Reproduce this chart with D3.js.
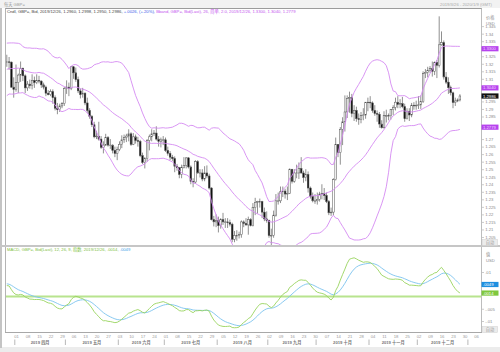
<!DOCTYPE html>
<html>
<head>
<meta charset="utf-8">
<script src="https://cdn.jsdelivr.net/npm/d3@7"></script>
<style>
  body { margin: 0; background: #fff; }
  svg { display: block; font-family: "Liberation Sans", Arial, "Noto Sans CJK SC", sans-serif; }
</style>
</head>
<body>
<svg id="chart" width="500" height="352"></svg>
<script>
// closes before the visible range, only used to warm up the Bband / MACD
const priorClose = [
  1.2610, 1.2635, 1.2735, 1.2780, 1.2720, 1.2745, 1.2765, 1.2840, 1.2865, 1.2870, 1.2870,
  1.2990, 1.2880, 1.2885, 1.2975, 1.3045, 1.3070, 1.3200, 1.3165, 1.3070, 1.3105, 1.3115,
  1.3075, 1.3040, 1.2945, 1.2935, 1.2945, 1.2945, 1.2890, 1.2930, 1.2845, 1.2785, 1.2900,
  1.2930, 1.3050, 1.3050, 1.3030, 1.3050, 1.3080, 1.3245, 1.3310, 1.3260,
  1.3190, 1.3150, 1.3175, 1.3115, 1.3080, 1.3010, 1.3155, 1.3090, 1.3240, 1.3250, 1.3275,
  1.3260, 1.3250, 1.3200, 1.3080, 1.3210, 1.3210
];

// daily GBP= candles, every weekday 2019-03-26 .. 2019-12-26
const open = [
  1.3210, 1.3213, 1.3211, 1.3045,
  1.3030, 1.3075, 1.3125, 1.3170, 1.3120, 1.3040, 1.3065, 1.3055, 1.3090, 1.3075, 1.3090, 1.3085, 1.3060, 1.3045, 1.3005, 1.2995, 1.3015, 1.2975, 1.2905, 1.2895, 1.2920, 1.2935,
  1.3035, 1.3045, 1.3035, 1.3180, 1.3140, 1.3095, 1.3020, 1.2995, 1.3005, 1.2940, 1.2890, 1.2850, 1.2795, 1.2715, 1.2720, 1.2700, 1.2645, 1.2660, 1.2710, 1.2660, 1.2660, 1.2625, 1.2605,
  1.2630, 1.2665, 1.2695, 1.2710, 1.2720, 1.2735, 1.2665, 1.2715, 1.2690, 1.2685, 1.2590, 1.2545, 1.2570, 1.2690, 1.2715, 1.2735, 1.2740, 1.2700, 1.2685, 1.2695,
  1.2695, 1.2625, 1.2605, 1.2580, 1.2570, 1.2520, 1.2510, 1.2465, 1.2510, 1.2525, 1.2575, 1.2515, 1.2420, 1.2415, 1.2550, 1.2475, 1.2475, 1.2435, 1.2475, 1.2455, 1.2375, 1.2165, 1.2150,
  1.2160, 1.2125, 1.2165, 1.2150, 1.2150, 1.2145, 1.2135, 1.2035, 1.2060, 1.2060, 1.2065, 1.2150, 1.2140, 1.2130, 1.2165, 1.2125, 1.2245, 1.2280, 1.2285, 1.2285, 1.2215, 1.2170,
  1.2160, 1.2060, 1.2060, 1.2195, 1.2290, 1.2290, 1.2350, 1.2355, 1.2335, 1.2340, 1.2500, 1.2420, 1.2475, 1.2475, 1.2505, 1.2475, 1.2445, 1.2465, 1.2375, 1.2320, 1.2290,
  1.2290, 1.2300, 1.2335, 1.2340, 1.2325, 1.2285, 1.2210, 1.2215, 1.2430, 1.2665, 1.2610, 1.2765, 1.2815, 1.2880, 1.2970, 1.2975, 1.2870, 1.2890, 1.2835, 1.2830, 1.2855, 1.2860, 1.2945,
  1.2945, 1.2940, 1.2890, 1.2870, 1.2865, 1.2800, 1.2775, 1.2855, 1.2855, 1.2855, 1.2895, 1.2910, 1.2945, 1.2930, 1.2935, 1.2915, 1.2835, 1.2885, 1.2860, 1.2925, 1.2920,
  1.2925, 1.2927, 1.2948, 1.3134, 1.3143, 1.3155, 1.3167, 1.3150, 1.3209, 1.3190, 1.3326, 1.3340, 1.3112, 1.3078, 1.3041, 1.3007, 1.2943, 1.2953, 1.2960
];
const high = [
  1.3260, 1.3245, 1.3215, 1.3110,
  1.3195, 1.3135, 1.3215, 1.3175, 1.3130, 1.3085, 1.3095, 1.3130, 1.3115, 1.3130, 1.3120, 1.3090, 1.3075, 1.3055, 1.3025, 1.3030, 1.3030, 1.2990, 1.2940, 1.2935, 1.2945, 1.3045,
  1.3090, 1.3075, 1.3185, 1.3185, 1.3175, 1.3115, 1.3035, 1.3040, 1.3010, 1.2975, 1.2905, 1.2860, 1.2815, 1.2755, 1.2815, 1.2720, 1.2685, 1.2735, 1.2720, 1.2700, 1.2665, 1.2650, 1.2650,
  1.2685, 1.2725, 1.2730, 1.2735, 1.2765, 1.2745, 1.2740, 1.2730, 1.2715, 1.2695, 1.2610, 1.2580, 1.2700, 1.2730, 1.2765, 1.2760, 1.2785, 1.2720, 1.2710, 1.2720,
  1.2710, 1.2650, 1.2620, 1.2595, 1.2585, 1.2535, 1.2515, 1.2530, 1.2580, 1.2580, 1.2580, 1.2525, 1.2440, 1.2560, 1.2560, 1.2500, 1.2500, 1.2520, 1.2525, 1.2470, 1.2380, 1.2190, 1.2200,
  1.2185, 1.2175, 1.2210, 1.2175, 1.2175, 1.2165, 1.2145, 1.2090, 1.2095, 1.2085, 1.2160, 1.2160, 1.2175, 1.2185, 1.2175, 1.2275, 1.2310, 1.2290, 1.2305, 1.2290, 1.2245, 1.2220,
  1.2165, 1.2105, 1.2225, 1.2335, 1.2345, 1.2385, 1.2385, 1.2370, 1.2385, 1.2505, 1.2500, 1.2500, 1.2530, 1.2545, 1.2580, 1.2490, 1.2500, 1.2485, 1.2385, 1.2345, 1.2335,
  1.2345, 1.2350, 1.2400, 1.2375, 1.2345, 1.2295, 1.2245, 1.2440, 1.2710, 1.2665, 1.2780, 1.2845, 1.2990, 1.2990, 1.3015, 1.3000, 1.2925, 1.2915, 1.2870, 1.2880, 1.2905, 1.2945, 1.2975,
  1.2985, 1.2950, 1.2925, 1.2890, 1.2880, 1.2825, 1.2885, 1.2895, 1.2870, 1.2900, 1.2925, 1.2975, 1.2985, 1.2965, 1.2980, 1.2935, 1.2905, 1.2905, 1.2940, 1.2945, 1.2955,
  1.2985, 1.2990, 1.3150, 1.3165, 1.3180, 1.3185, 1.3215, 1.3215, 1.3225, 1.3515, 1.3415, 1.3355, 1.3145, 1.3110, 1.3055, 1.3015, 1.2975, 1.2970, 1.2998
];
const low = [
  1.3180, 1.3160, 1.3040, 1.2975,
  1.3015, 1.3005, 1.3080, 1.3085, 1.3005, 1.3020, 1.3035, 1.3030, 1.3040, 1.3065, 1.3070, 1.3040, 1.3030, 1.2985, 1.2990, 1.2985, 1.2935, 1.2890, 1.2865, 1.2880, 1.2905, 1.2920,
  1.3000, 1.2985, 1.3025, 1.3100, 1.3080, 1.3005, 1.2970, 1.2975, 1.2925, 1.2875, 1.2835, 1.2780, 1.2705, 1.2700, 1.2690, 1.2635, 1.2605, 1.2655, 1.2650, 1.2635, 1.2605, 1.2580, 1.2560,
  1.2620, 1.2640, 1.2675, 1.2680, 1.2685, 1.2655, 1.2660, 1.2670, 1.2650, 1.2580, 1.2535, 1.2505, 1.2550, 1.2625, 1.2685, 1.2720, 1.2690, 1.2650, 1.2645, 1.2660,
  1.2615, 1.2590, 1.2560, 1.2555, 1.2480, 1.2490, 1.2440, 1.2440, 1.2505, 1.2505, 1.2505, 1.2400, 1.2380, 1.2405, 1.2470, 1.2445, 1.2420, 1.2420, 1.2440, 1.2365, 1.2160, 1.2120, 1.2115,
  1.2080, 1.2105, 1.2130, 1.2110, 1.2110, 1.2120, 1.2015, 1.2015, 1.2025, 1.2040, 1.2045, 1.2115, 1.2125, 1.2065, 1.2120, 1.2120, 1.2195, 1.2205, 1.2245, 1.2175, 1.2155, 1.2145,
  1.2045, 1.1960, 1.2045, 1.2185, 1.2265, 1.2275, 1.2315, 1.2305, 1.2295, 1.2335, 1.2405, 1.2410, 1.2440, 1.2435, 1.2470, 1.2410, 1.2420, 1.2345, 1.2305, 1.2280, 1.2270,
  1.2265, 1.2285, 1.2300, 1.2295, 1.2275, 1.2195, 1.2190, 1.2195, 1.2425, 1.2580, 1.2530, 1.2660, 1.2750, 1.2840, 1.2875, 1.2845, 1.2820, 1.2815, 1.2795, 1.2805, 1.2825, 1.2835, 1.2885,
  1.2905, 1.2875, 1.2855, 1.2815, 1.2775, 1.2770, 1.2770, 1.2810, 1.2825, 1.2830, 1.2860, 1.2890, 1.2905, 1.2905, 1.2905, 1.2815, 1.2830, 1.2820, 1.2845, 1.2895, 1.2895,
  1.2900, 1.2900, 1.2940, 1.3105, 1.3110, 1.3140, 1.3115, 1.3125, 1.3105, 1.3175, 1.3320, 1.3095, 1.3065, 1.3000, 1.2990, 1.2905, 1.2920, 1.2945, 1.2950
];
const close = [
  1.3213, 1.3211, 1.3045, 1.3030,
  1.3075, 1.3125, 1.3170, 1.3120, 1.3040, 1.3065, 1.3055, 1.3090, 1.3075, 1.3090, 1.3085, 1.3060, 1.3045, 1.3005, 1.2995, 1.3015, 1.2975, 1.2905, 1.2895, 1.2920, 1.2935, 1.3035,
  1.3045, 1.3035, 1.3180, 1.3140, 1.3095, 1.3020, 1.2995, 1.3005, 1.2940, 1.2890, 1.2850, 1.2795, 1.2715, 1.2720, 1.2700, 1.2645, 1.2660, 1.2710, 1.2660, 1.2660, 1.2625, 1.2605, 1.2630,
  1.2665, 1.2695, 1.2710, 1.2720, 1.2735, 1.2665, 1.2715, 1.2690, 1.2685, 1.2590, 1.2545, 1.2570, 1.2690, 1.2715, 1.2735, 1.2740, 1.2700, 1.2685, 1.2695, 1.2695,
  1.2625, 1.2605, 1.2580, 1.2570, 1.2520, 1.2510, 1.2465, 1.2510, 1.2525, 1.2575, 1.2515, 1.2420, 1.2415, 1.2550, 1.2475, 1.2475, 1.2435, 1.2475, 1.2455, 1.2375, 1.2165, 1.2150, 1.2160,
  1.2125, 1.2165, 1.2150, 1.2150, 1.2145, 1.2135, 1.2035, 1.2060, 1.2060, 1.2065, 1.2150, 1.2140, 1.2130, 1.2165, 1.2125, 1.2245, 1.2280, 1.2285, 1.2285, 1.2215, 1.2170, 1.2160,
  1.2060, 1.2060, 1.2195, 1.2290, 1.2290, 1.2350, 1.2355, 1.2335, 1.2340, 1.2500, 1.2420, 1.2475, 1.2475, 1.2505, 1.2475, 1.2445, 1.2465, 1.2375, 1.2320, 1.2290, 1.2290,
  1.2300, 1.2335, 1.2340, 1.2325, 1.2285, 1.2210, 1.2215, 1.2430, 1.2665, 1.2610, 1.2765, 1.2815, 1.2880, 1.2970, 1.2975, 1.2870, 1.2890, 1.2835, 1.2830, 1.2855, 1.2860, 1.2945, 1.2945,
  1.2940, 1.2890, 1.2870, 1.2865, 1.2800, 1.2775, 1.2855, 1.2855, 1.2855, 1.2895, 1.2910, 1.2945, 1.2930, 1.2935, 1.2915, 1.2835, 1.2885, 1.2860, 1.2925, 1.2920, 1.2925,
  1.2927, 1.2948, 1.3134, 1.3143, 1.3155, 1.3167, 1.3150, 1.3209, 1.3190, 1.3326, 1.3340, 1.3112, 1.3078, 1.3041, 1.3007, 1.2943, 1.2953, 1.2960, 1.2986
];

const monthLabels = ["2019 四月", "2019 五月", "2019 六月", "2019 七月", "2019 八月",
                     "2019 九月", "2019 十月", "2019 十一月", "2019 十二月"];
const bandLast = [1.3300, 1.3040, 1.2779];
const lastClose = 1.2986;
const macdLast = 0.0014, signalLast = 0.0049;
const macdTicks = [0.01, 0.005, 0, -0.005, -0.01];

const cndlText = "Cndl, GBP=, Bid, 2019/12/26, 1.2960, 1.2998, 1.2950, 1.2986, ";
const chgText = "+.0026, (+.20%), ";
const bbText = "Bband, GBP=, Bid(Last), 26, 简单, 2.0, 2019/12/26, 1.3300, 1.3040, 1.2779";
const macdText = "MACD, GBP=, Bid(Last), 12, 26, 9, 指数, 2019/12/26, .0014, ";
const sigText = ".0049";

const firstDay = new Date(Date.UTC(2019, 2, 26));
const lastDay = new Date(Date.UTC(2019, 11, 26));
const axisEnd = new Date(Date.UTC(2020, 0, 9));

const svg = d3.select("#chart");
const FS = 4.2;

const isWeekday = d => d.getUTCDay() % 6 !== 0;
const bizIdx = d => d3.utcDay.range(firstDay, d).filter(isWeekday).length;
const days = d3.utcDay.range(firstDay, d3.utcDay.offset(lastDay, 1)).filter(isWeekday);
const di = days.map(bizIdx);

const x = d3.scaleLinear().domain([0, bizIdx(axisEnd)]).range([6.8, 482.9]);
const y = d3.scaleLinear().domain([1.20, 1.35]).range([244.5, 18.6]);
const ym = d3.scaleLinear().domain([-0.015, 0.02]).range([333.25, 247.5]);

// indicators from the closes
const allClose = priorClose.concat(close);
const off = priorClose.length;
const bb = close.map((c, i) => {
  const win = allClose.slice(off + i - 25, off + i + 1);
  const m = d3.mean(win);
  const s = Math.sqrt(d3.mean(win, v => (v - m) * (v - m)));
  return { i: di[i], mid: m, up: m + 2 * s, lo: m - 2 * s };
});
function ema(arr, n) {
  const k = 2 / (n + 1);
  let e = arr[0];
  return arr.map((v, i) => (e = i ? v * k + e * (1 - k) : v));
}
const e12 = ema(allClose, 12), e26 = ema(allClose, 26);
const macdAll = allClose.map((v, i) => e12[i] - e26[i]);
const sigAll = ema(macdAll, 9);
const macd = close.map((c, i) => ({ i: di[i], m: macdAll[off + i], s: sigAll[off + i] }));

// frame
svg.append("rect").attr("x", 0).attr("y", 0).attr("width", 500).attr("height", 8).attr("fill", "#f2f2f2");
svg.append("rect").attr("x", 0).attr("y", 347).attr("width", 500).attr("height", 5).attr("fill", "#ececec");
svg.append("rect").attr("x", 0).attr("y", 8).attr("width", 2).attr("height", 340).attr("fill", "#c4c4c4");
svg.append("line").attr("x1", 5).attr("x2", 482).attr("y1", 8.5).attr("y2", 8.5).attr("stroke", "#9c9c9c");
svg.append("line").attr("x1", 5.5).attr("x2", 5.5).attr("y1", 8.5).attr("y2", 332.5).attr("stroke", "#b4b4b4");
svg.append("line").attr("x1", 481.5).attr("x2", 481.5).attr("y1", 8.5).attr("y2", 332.5).attr("stroke", "#bdbdbd");
svg.append("line").attr("x1", 0).attr("x2", 500).attr("y1", 246).attr("y2", 246).attr("stroke", "#c6c6c6").attr("stroke-width", 2);
svg.append("line").attr("x1", 5).attr("x2", 482).attr("y1", 332.5).attr("y2", 332.5).attr("stroke", "#a8a8a8");

svg.append("text").attr("x", 4).attr("y", 5.6).attr("font-size", FS).attr("fill", "#9a9a9a").text("每天 GBP=");
svg.append("text").attr("x", 492).attr("y", 5.6).attr("font-size", FS).attr("fill", "#aaa")
  .attr("text-anchor", "end").text("2019/3/26 - 2020/1/9 (GMT)");

const defs = svg.append("defs");
defs.append("clipPath").attr("id", "clipMain").append("rect")
  .attr("x", 6).attr("y", 9).attr("width", 475).attr("height", 236);
defs.append("clipPath").attr("id", "clipMacd").append("rect")
  .attr("x", 6).attr("y", 247).attr("width", 475).attr("height", 85);

// candles
const gMain = svg.append("g").attr("clip-path", "url(#clipMain)");
const bw = 1.7;
gMain.selectAll(".wick").data(close).join("line").attr("class", "wick")
  .attr("x1", (d, i) => x(di[i])).attr("x2", (d, i) => x(di[i]))
  .attr("y1", (d, i) => y(high[i])).attr("y2", (d, i) => y(low[i]))
  .attr("stroke", "#444").attr("stroke-width", 0.6);
gMain.selectAll(".body").data(close).join("rect").attr("class", "body")
  .attr("x", (d, i) => x(di[i]) - bw / 2).attr("width", bw)
  .attr("y", (d, i) => y(Math.max(open[i], d)))
  .attr("height", (d, i) => Math.max(0.6, Math.abs(y(open[i]) - y(d))))
  .attr("fill", (d, i) => d >= open[i] ? "#fff" : "#111")
  .attr("stroke", "#555").attr("stroke-width", 0.5);

// bollinger bands
const bbColor = "#d58af2";
["up", "mid", "lo"].forEach(k => {
  gMain.append("path").datum(bb)
    .attr("fill", "none").attr("stroke", bbColor).attr("stroke-width", 0.9)
    .attr("d", d3.line().x(d => x(d.i)).y(d => y(d[k])));
});

// price legend
const lg = svg.append("text").attr("x", 7).attr("y", 13.3).attr("font-size", FS);
lg.append("tspan").attr("fill", "#444").text(cndlText);
lg.append("tspan").attr("fill", "#3a5ae8").text(chgText);
lg.append("tspan").attr("fill", "#c455ee").text(bbText);

// price axis, tick labels that sit under a value tag are left out
const priceTagY = bandLast.concat([lastClose]).map(v => y(v));
const priceTicks = d3.range(1.205, 1.3451, 0.005).map(v => +v.toFixed(3))
  .filter(v => priceTagY.every(t => Math.abs(y(v) - t) > 4.6));
const ay = svg.append("g").attr("transform", "translate(482,0)")
  .call(d3.axisRight(y).tickValues(priceTicks).tickSize(2).tickPadding(1.2)
    .tickFormat(v => String(+v.toFixed(3))));
ay.select(".domain").remove();
ay.selectAll("line").attr("stroke", "#aaa").attr("stroke-width", 0.6);
ay.selectAll("text").attr("font-size", FS).attr("fill", "#8a8a8a").attr("font-family", "Liberation Sans, Arial, sans-serif");

svg.append("text").attr("x", 486).attr("y", 18.5).attr("font-size", FS).attr("fill", "#8a8a8a").text("价格");
svg.append("text").attr("x", 486).attr("y", 24.5).attr("font-size", FS).attr("fill", "#8a8a8a").text("USD");

function tag(yy, txt, fill, color) {
  svg.append("rect").attr("x", 481.5).attr("y", yy - 2.6).attr("width", 17).attr("height", 5.2).attr("fill", fill);
  svg.append("text").attr("x", 483).attr("y", yy + 1.5).attr("font-size", FS).attr("fill", color).text(txt);
}
bandLast.forEach(v => tag(y(v), v.toFixed(4), "#b744ee", "#f2dcff"));
tag(y(lastClose), lastClose.toFixed(4), "#111", "#fff");

function autoBox(yy) {
  svg.append("rect").attr("x", 482.5).attr("y", yy - 3).attr("width", 15).attr("height", 6)
    .attr("fill", "#ececec").attr("stroke", "#cfcfcf").attr("stroke-width", 0.5);
  svg.append("text").attr("x", 490).attr("y", yy + 1.5).attr("font-size", FS).attr("fill", "#999")
    .attr("text-anchor", "middle").text("自动");
}
autoBox(242.5);
autoBox(329.5);

// MACD panel
const gM = svg.append("g").attr("clip-path", "url(#clipMacd)");
gM.append("line").attr("x1", 6).attr("x2", 481).attr("y1", ym(0)).attr("y2", ym(0))
  .attr("stroke", "#b8e48e").attr("stroke-width", 1.8);
gM.append("path").datum(macd).attr("fill", "none").attr("stroke", "#7cc3ee").attr("stroke-width", 0.9)
  .attr("d", d3.line().x(d => x(d.i)).y(d => ym(d.s)));
gM.append("path").datum(macd).attr("fill", "none").attr("stroke", "#98d45e").attr("stroke-width", 0.9)
  .attr("d", d3.line().x(d => x(d.i)).y(d => ym(d.m)));

const ml = svg.append("text").attr("x", 7).attr("y", 251.2).attr("font-size", FS);
ml.append("tspan").attr("fill", "#7cc040").text(macdText);
ml.append("tspan").attr("fill", "#3aa0e8").text(sigText);

const macdTagY = [ym(signalLast), ym(macdLast)];
const am = svg.append("g").attr("transform", "translate(482,0)")
  .call(d3.axisRight(ym).tickValues(macdTicks.filter(v => macdTagY.every(t => Math.abs(ym(v) - t) > 4.6)))
    .tickSize(2).tickPadding(1.2)
    .tickFormat(v => v === 0 ? "0" : String(+v.toFixed(3)).replace("0.", ".")));
am.select(".domain").remove();
am.selectAll("line").attr("stroke", "#aaa").attr("stroke-width", 0.6);
am.selectAll("text").attr("font-size", FS).attr("fill", "#8a8a8a").attr("font-family", "Liberation Sans, Arial, sans-serif");
svg.append("text").attr("x", 486).attr("y", 256).attr("font-size", FS).attr("fill", "#8a8a8a").text("值");
svg.append("text").attr("x", 486).attr("y", 262).attr("font-size", FS).attr("fill", "#8a8a8a").text("USD");
tag(ym(signalLast), ".0049", "#1e8fe0", "#fff");
tag(ym(macdLast), ".0014", "#7fc83e", "#fff");

// time axis: weekly day numbers, month names
const mondays = d3.utcMonday.range(new Date(Date.UTC(2019, 3, 1)), axisEnd);
const ax = svg.append("g").attr("transform", "translate(0,335)")
  .call(d3.axisBottom(x).tickValues(mondays.map(bizIdx)).tickSize(0).tickPadding(0)
    .tickFormat((d, i) => d3.utcFormat("%d")(mondays[i])));
ax.select(".domain").remove();
ax.selectAll("text").attr("font-size", FS).attr("fill", "#9a9a9a").attr("dy", "0.6em")
  .attr("font-family", "Liberation Sans, Arial, sans-serif");

const monthStarts = d3.utcMonth.range(new Date(Date.UTC(2019, 3, 1)), new Date(Date.UTC(2020, 1, 1)))
  .map(m => { let d = m; while (!isWeekday(d)) d = d3.utcDay.offset(d, 1); return x(bizIdx(d)) - 1.2; });
svg.selectAll(".msep").data(monthStarts).join("line").attr("class", "msep")
  .attr("x1", d => d).attr("x2", d => d).attr("y1", 339.5).attr("y2", 345)
  .attr("stroke", "#888").attr("stroke-width", 0.6);
svg.selectAll(".mlab").data(monthLabels).join("text").attr("class", "mlab")
  .attr("x", (d, i) => (monthStarts[i] + monthStarts[i + 1]) / 2).attr("y", 344)
  .attr("text-anchor", "middle").attr("font-size", FS).attr("font-weight", "bold").attr("fill", "#777")
  .text(d => d);
</script>
</body>
</html>
